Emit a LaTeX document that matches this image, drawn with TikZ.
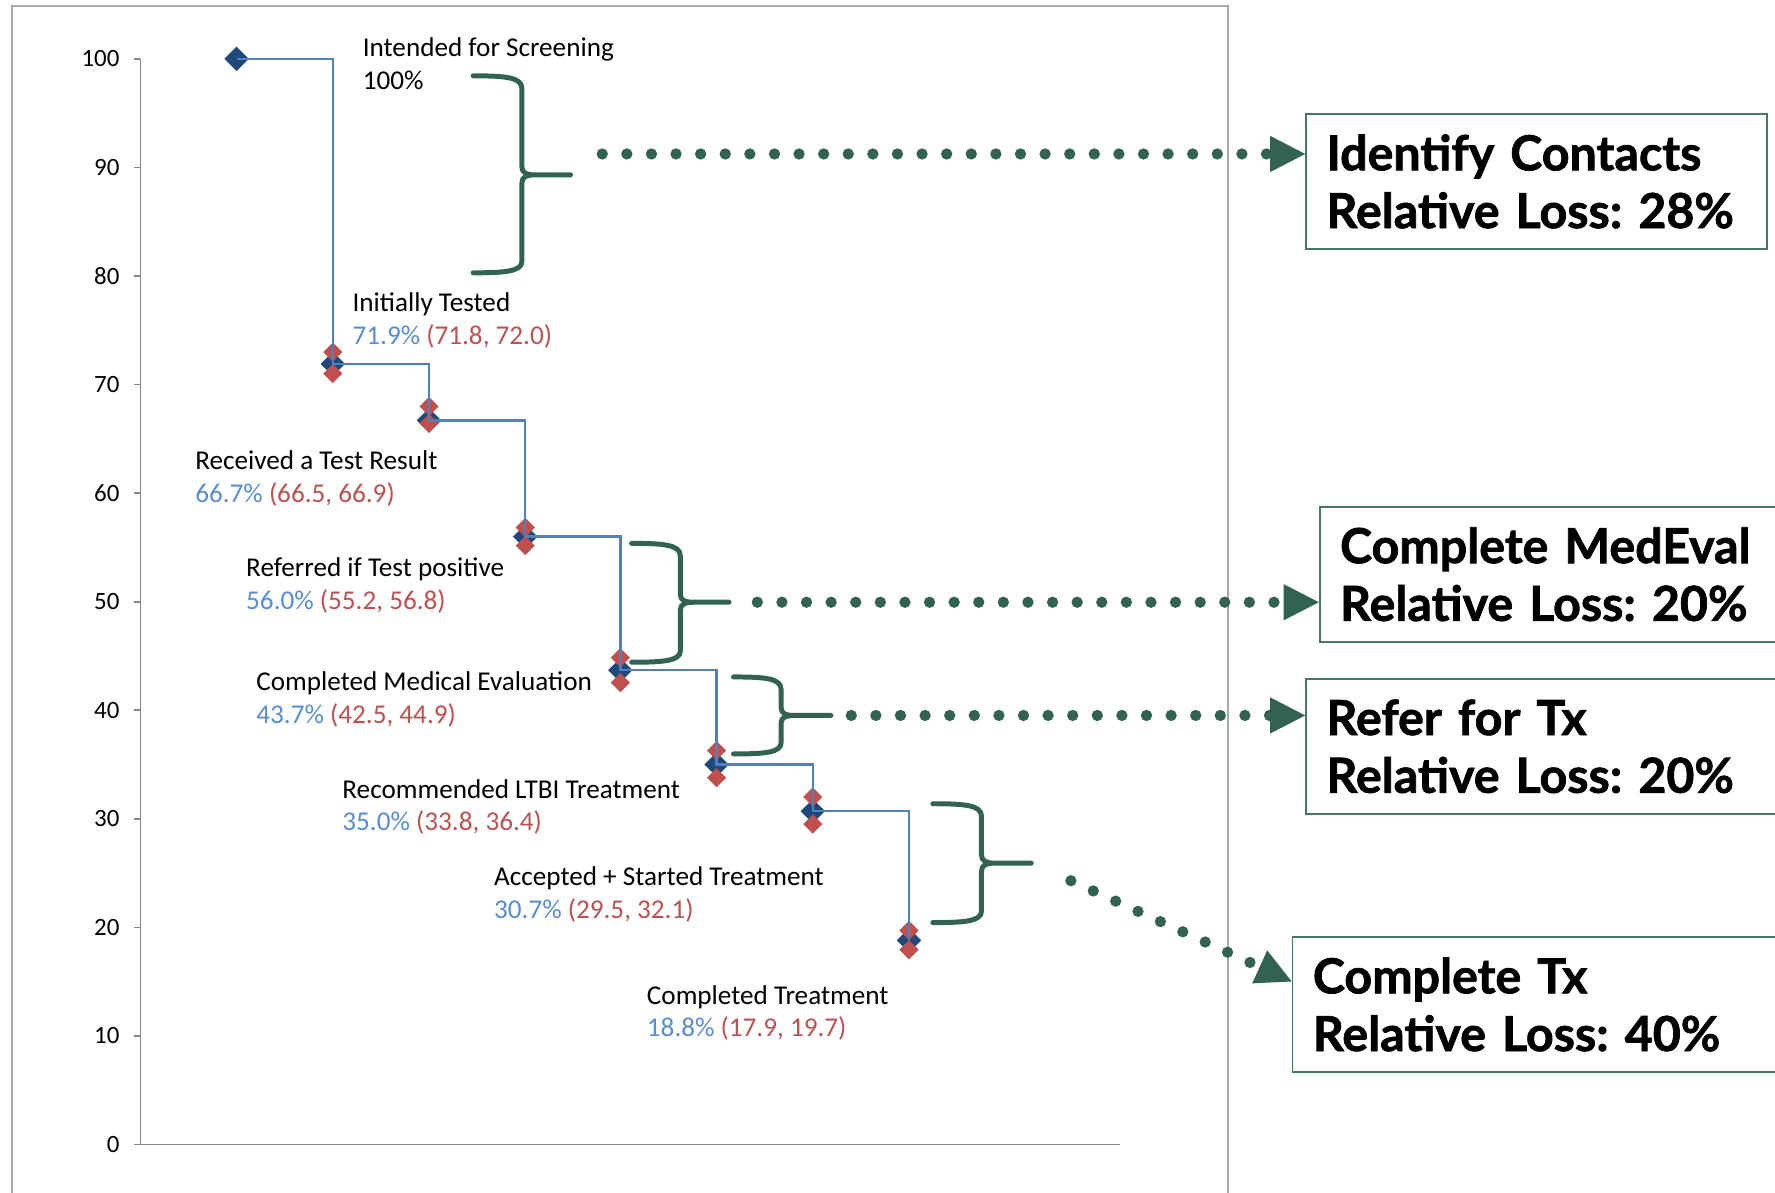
\documentclass[tikz,border=0pt]{standalone}
\usepackage{fontspec}
\setmainfont{Carlito}
\newfontfamily\lossfont[WordSpace=0.6, BoldFeatures={FakeBold=1.5}]{Lato}
\usetikzlibrary{shapes.geometric,arrows.meta}

\definecolor{meanblue}{RGB}{31,73,125}
\definecolor{cired}{RGB}{192,80,77}
\definecolor{lineblue}{RGB}{79,129,189}
\definecolor{pctblue}{RGB}{85,142,213}
\definecolor{bracegreen}{RGB}{50,98,82}
\definecolor{boxgreen}{RGB}{70,118,100}
\definecolor{framegray}{RGB}{170,170,170}
\definecolor{axisgray}{RGB}{134,134,134}

\tikzset{every picture/.style={line width=0.75pt}}
\tikzset{
  meanpt/.style={diamond, aspect=1, fill=meanblue, inner sep=0pt, minimum size=16.5pt},
  cipt/.style={diamond, aspect=1, fill=cired, inner sep=0pt, minimum size=13pt},
  stepline/.style={draw=lineblue, line width=1.6pt},
  axisline/.style={draw=axisgray, line width=1.1pt},
  ticklbl/.style={anchor=east, inner sep=0pt, font=\fontsize{16.5}{19}\selectfont},
  stagelbl/.style={anchor=base west, inner sep=0pt, font=\fontsize{18}{21.75}\selectfont},
  bracestroke/.style={draw=bracegreen, line width=3.3pt, line cap=round, line join=round},
  dotarrow/.style={draw=bracegreen, line width=7.5pt, line cap=round, dash pattern=on 0pt off 16.3pt,
    -{Triangle[length=23.25pt, width=24pt, line width=0pt]}},
  lossbox/.style={draw=boxgreen, line width=1.2pt, anchor=north west, align=left, inner xsep=13.5pt,
    inner ysep=0pt, minimum height=89.25pt, font=\lossfont\bfseries\frenchspacing\fontsize{32}{38.25}\selectfont}
}

\begin{document}
\begin{tikzpicture}[x=0.75pt,y=0.75pt,yscale=-1,xscale=1]
\useasboundingbox (0,0) rectangle (1568,1053);

%Chart frame
\draw [framegray, line width=1.3pt] (11,1070) -- (11,5) -- (1085,5) -- (1085,1070) ;

%Axes
\draw [axisline] (124,52) -- (124,1011) -- (989,1011) ;
\draw [axisline] (118,52) -- (124,52) (118,147.9) -- (124,147.9) (118,243.8) -- (124,243.8)
  (118,339.7) -- (124,339.7) (118,435.6) -- (124,435.6) (118,531.5) -- (124,531.5)
  (118,627.4) -- (124,627.4) (118,723.3) -- (124,723.3) (118,819.2) -- (124,819.2)
  (118,915.1) -- (124,915.1) (118,1011) -- (124,1011) ;

% Tick labels
\node [ticklbl] (y100) at (106,52) {100};
\node [ticklbl] (y90) at (106,147.9) {90};
\node [ticklbl] (y80) at (106,243.8) {80};
\node [ticklbl] (y70) at (106,339.7) {70};
\node [ticklbl] (y60) at (106,435.6) {60};
\node [ticklbl] (y50) at (106,531.5) {50};
\node [ticklbl] (y40) at (106,627.4) {40};
\node [ticklbl] (y30) at (106,723.3) {30};
\node [ticklbl] (y20) at (106,819.2) {20};
\node [ticklbl] (y10) at (106,915.1) {10};
\node [ticklbl] (y0) at (106,1011) {0};

%Mean points
\node [meanpt] (p0) at (209,52) {};
\node [meanpt] (p1) at (294,321.5) {};
\node [meanpt] (p2) at (379,371.3) {};
\node [meanpt] (p3) at (464,474) {};
\node [meanpt] (p4) at (548,592) {};
\node [meanpt] (p5) at (633,675.4) {};
\node [meanpt] (p6) at (718,716.6) {};
\node [meanpt] (p7) at (803,830.7) {};

%Interval points
\node [cipt] (p1u) at (294,311) {};
\node [cipt] (p1l) at (294,330) {};
\node [cipt] (p2u) at (379,359) {};
\node [cipt] (p2l) at (379,374) {};
\node [cipt] (p3u) at (464,466) {};
\node [cipt] (p3l) at (464,482) {};
\node [cipt] (p4u) at (548,581) {};
\node [cipt] (p4l) at (548,603) {};
\node [cipt] (p5u) at (633,663) {};
\node [cipt] (p5l) at (633,687) {};
\node [cipt] (p6u) at (718,704) {};
\node [cipt] (p6l) at (718,728) {};
\node [cipt] (p7u) at (803,822) {};
\node [cipt] (p7l) at (803,839) {};

%Step line
\draw [stepline] (p0.center) -| (p1.center) -| (p2.center) -| (p3.center) -| (p4.center)
  -| (p5.center) -| (p6.center) -| (p7.center) ;

% Text Node
\node [stagelbl] (s0) at (320,50) {Intended for Screening};
\node [stagelbl] (s0v) at (320,79) {100\%};
\node [stagelbl] (s1) at (311,275) {Initially Tested};
\node [stagelbl] (s1v) at (311,304) {\color{pctblue}71.9\% \color{cired}(71.8, 72.0)};
\node [stagelbl] (s2) at (172,415) {Received a Test Result};
\node [stagelbl] (s2v) at (172,444) {\color{pctblue}66.7\% \color{cired}(66.5, 66.9)};
\node [stagelbl] (s3) at (217,509) {Referred if Test positive};
\node [stagelbl] (s3v) at (217,538) {\color{pctblue}56.0\% \color{cired}(55.2, 56.8)};
\node [stagelbl] (s4) at (226,610) {Completed Medical Evaluation};
\node [stagelbl] (s4v) at (226,639) {\color{pctblue}43.7\% \color{cired}(42.5, 44.9)};
\node [stagelbl] (s5) at (302,705) {Recommended LTBI Treatment};
\node [stagelbl] (s5v) at (302,734) {\color{pctblue}35.0\% \color{cired}(33.8, 36.4)};
\node [stagelbl] (s6) at (436,782) {Accepted + Started Treatment};
\node [stagelbl] (s6v) at (436,811) {\color{pctblue}30.7\% \color{cired}(29.5, 32.1)};
\node [stagelbl] (s7) at (571,887) {Completed Treatment};
\node [stagelbl] (s7v) at (571,916) {\color{pctblue}18.8\% \color{cired}(17.9, 19.7)};

%Shape: Brace
\draw [bracestroke] (418,67) .. controls (445,67) and (461,68) .. (461,78) -- (461,147) .. controls (461,153) and (465,154.5) .. (473,154.5) -- (504,154.5) -- (473,154.5) .. controls (465,154.5) and (461,156) .. (461,162) -- (461,231) .. controls (461,240) and (445,241) .. (418,241) ;
%Shape: Brace
\draw [bracestroke] (558,480) .. controls (585,480) and (601,481) .. (601,491) -- (601,525) .. controls (601,530.5) and (605,532) .. (613,532) -- (644,532) -- (613,532) .. controls (605,532) and (601,533.5) .. (601,539) -- (601,575) .. controls (601,584) and (585,585) .. (558,585) ;
%Shape: Brace
\draw [bracestroke] (648,598) .. controls (675,598) and (690,599) .. (690,609) -- (690,625) .. controls (690,630.5) and (694,632) .. (702,632) -- (734,632) -- (702,632) .. controls (694,632) and (690,633.5) .. (690,639) -- (690,656) .. controls (690,665) and (675,666) .. (648,666) ;
%Shape: Brace
\draw [bracestroke] (824,710) .. controls (851,710) and (867,711) .. (867,721) -- (867,755) .. controls (867,760.5) and (871,762.5) .. (879,762.5) -- (911,762.5) -- (879,762.5) .. controls (871,762.5) and (867,764) .. (867,770) -- (867,805) .. controls (867,814) and (851,815) .. (824,815) ;

% Loss boxes
\node [lossbox, text width=278.25pt] (contacts) at (1153,100) {Identify Contacts\\Relative Loss: 28\%};
\node [lossbox, text width=360pt] (medeval) at (1165,447) {Complete MedEval\\Relative Loss: 20\%};
\node [lossbox, text width=360pt] (refer) at (1153,599) {Refer for Tx\\Relative Loss: 20\%};
\node [lossbox, text width=360pt] (complete) at (1141,827) {Complete Tx\\Relative Loss: 40\%};

%Dotted connectors
\coordinate (d1) at (532,136);
\coordinate (d2) at (669,532);
\coordinate (d3) at (752,632);
\coordinate (d4) at (946,778);
\draw [dotarrow] (d1) -- (d1 -| contacts.west) ;
\draw [dotarrow] (d2) -- (d2 -| medeval.west) ;
\draw [dotarrow] (d3) -- (d3 -| refer.west) ;
\draw [dotarrow] (d4) -- ([yshift=30pt]complete.north west) ;

\end{tikzpicture}
\end{document}
